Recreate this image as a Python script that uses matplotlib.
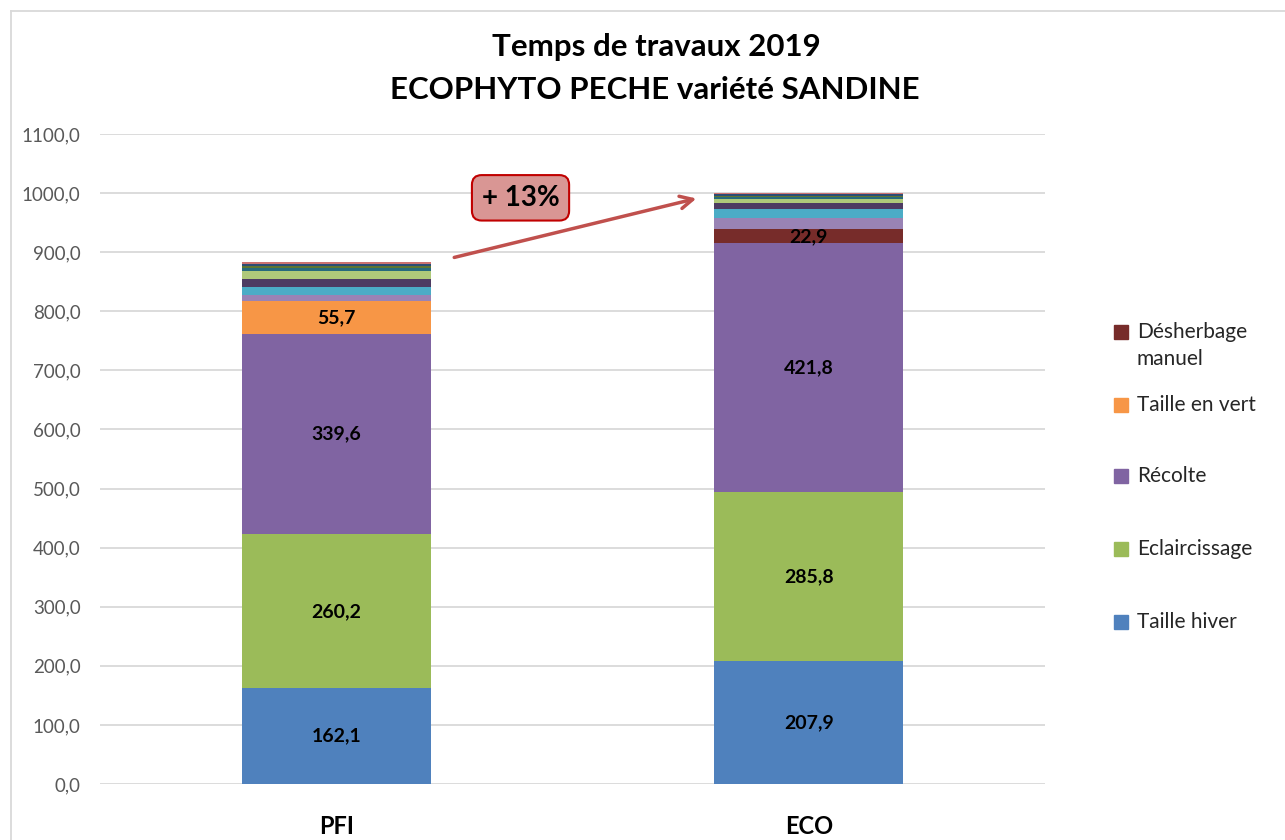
import numpy as np
import matplotlib.pyplot as plt
from matplotlib.patches import Rectangle

plt.rcParams['font.family'] = ['Lato', 'DejaVu Sans']

categories = ['PFI', 'ECO']

# series, bottom to top of the stack
series_names = ['Taille hiver', 'Eclaircissage', 'Récolte', 'Taille en vert',
                'Désherbage\nmanuel', 'autre 1', 'autre 2', 'autre 3', 'autre 4',
                'autre 5', 'autre 6', 'autre 7', 'autre 8']
series_values = [
    [162.1, 207.9],
    [260.2, 285.8],
    [339.6, 421.8],
    [55.7, 0.0],
    [0.0, 22.9],
    [9.6, 19.6],
    [14.7, 14.7],
    [13.5, 11.3],
    [13.0, 6.8],
    [4.5, 3.0],
    [3.5, 2.0],
    [4.0, 2.5],
    [2.6, 1.7],
]
series_colors = ['#4F81BD', '#9BBB59', '#8064A2', '#F79646', '#772C2A',
                 '#9983B5', '#4BACC6', '#4D3B62', '#AFC97A',
                 '#276A7C', '#5F7530', '#2C4D75', '#CD7371']
labelled = 5  # only the first five series get labels and legend entries

fig = plt.figure(figsize=(12.85, 8.4), dpi=100)
ax = fig.add_axes([100/1285, 56/840, 945/1285, 650/840])

x = np.arange(len(categories))
bottom = np.zeros(len(categories))
for i, (name, vals, col) in enumerate(zip(series_names, series_values, series_colors)):
    vals = np.array(vals)
    ax.bar(x, vals, 0.4, bottom=bottom, color=col, zorder=3)
    if i < labelled:
        for xi, v, b in zip(x, vals, bottom):
            if v > 0:
                ax.text(xi, b + v/2, f'{v:.1f}'.replace('.', ','), ha='center', va='center',
                        fontsize=14, fontweight='bold', color='black', zorder=4)
    bottom += vals

ax.set_xlim(-0.5, 1.5)
ax.set_ylim(0, 1100)
ax.set_yticks(np.arange(0, 1101, 100))
ax.set_yticklabels([f'{v:.1f}'.replace('.', ',') for v in np.arange(0, 1101, 100)],
                   fontsize=13.5, color='#595959')
ax.set_xticks(x)
ax.set_xticklabels(categories, fontsize=17, fontweight='bold', color='black')
ax.tick_params(length=0, pad=14)
ax.tick_params(axis='x', pad=22)
ax.grid(axis='y', color='#D9D9D9', linewidth=1.3, zorder=0)
for s in ax.spines.values():
    s.set_visible(False)

fig.text(656/1285, 1 - 47/840, 'Temps de travaux 2019', ha='center', va='center',
         fontsize=22.5, fontweight='bold')
fig.text(655/1285, 1 - 90/840, 'ECOPHYTO PECHE variété SANDINE', ha='center', va='center',
         fontsize=22.5, fontweight='bold')

# arrow and "+ 13%" callout
ax.annotate('', xy=(0.768, 992), xytext=(0.244, 890),
            arrowprops=dict(arrowstyle='->,head_length=0.9,head_width=0.45',
                            color='#C0504D', lw=2.5), zorder=5)
ax.text(0.39, 992, '+ 13%', ha='center', va='center', fontsize=20, fontweight='bold',
        zorder=6, bbox=dict(boxstyle='round,pad=0.35', facecolor='#D99694',
                            edgecolor='#C00000', linewidth=1.5))

# legend, top entry first
legend_y = [332, 405, 476, 549, 622]
for k, i in enumerate(range(labelled - 1, -1, -1)):
    yc = 1 - legend_y[k]/840
    fig.add_artist(Rectangle((1114/1285, yc - 7/840), 14/1285, 14/840,
                             color=series_colors[i], transform=fig.transFigure))
    fig.text(1137/1285, yc + 10/840, series_names[i], ha='left', va='top',
             fontsize=15, color='#262626', linespacing=1.45)

# chart frame
fig.add_artist(plt.Line2D([11/1285, 11/1285], [0, 1 - 11/840], color='#D9D9D9', lw=1.3))
fig.add_artist(plt.Line2D([11/1285, 1], [1 - 11/840, 1 - 11/840], color='#D9D9D9', lw=1.3))

fig.savefig('out.png', dpi=100)
